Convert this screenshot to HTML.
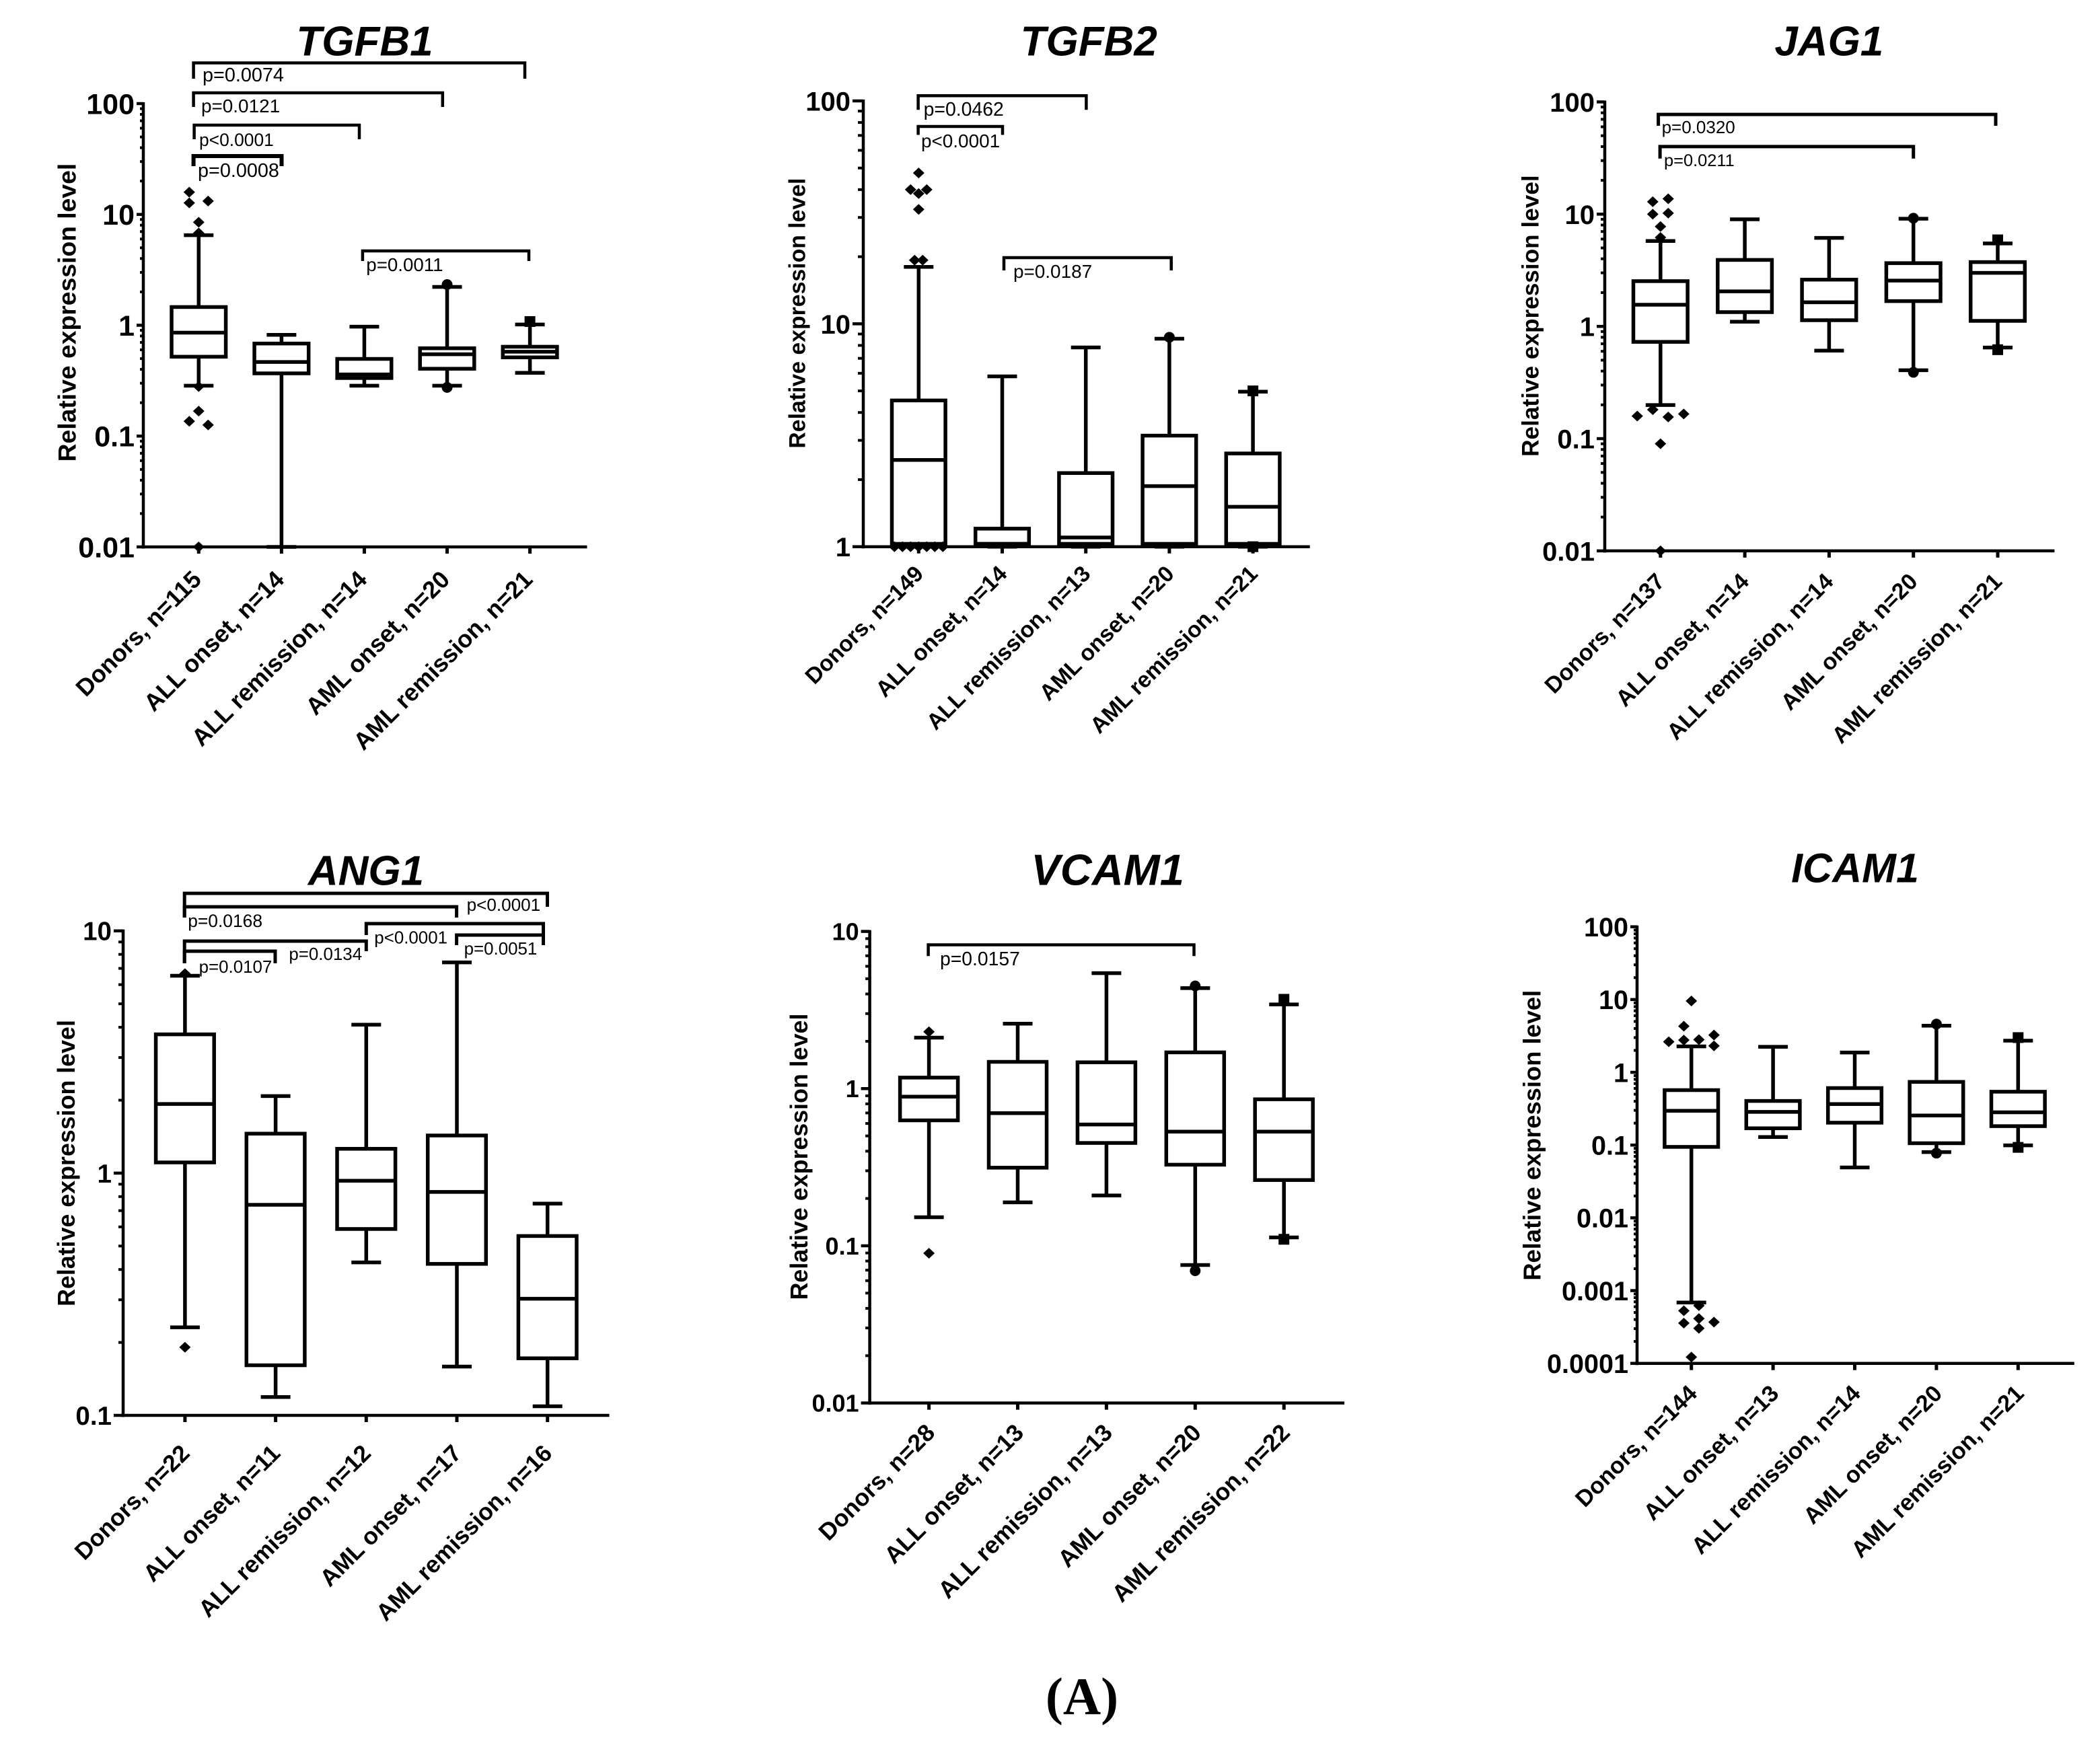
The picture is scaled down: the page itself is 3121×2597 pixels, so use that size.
<!DOCTYPE html>
<html lang="en">
<head>
<meta charset="utf-8">
<title>Relative expression level box plots</title>
<style>
html,body{margin:0;padding:0;background:#fff;}
svg{display:block;}
text{fill:#000;font-family:"Liberation Sans",sans-serif;}
</style>
</head>
<body>
<svg id="figure" xmlns="http://www.w3.org/2000/svg" width="3121" height="2597" viewBox="0 0 3121 2597">
<rect width="3121" height="2597" fill="#fff"/>
<text x="1608" y="2548" text-anchor="middle" style="font-family:'Liberation Serif',serif;font-weight:bold;font-size:78px;">(A)</text>
</svg>
<script>
// ---------- chart data ----------
const markerShapes = ['diamond', 'diamond', 'diamond', 'circle', 'square'];

const categoriesTGFB1 = ['Donors, n=115', 'ALL onset, n=14', 'ALL remission, n=14', 'AML onset, n=20', 'AML remission, n=21'];
const yTickLabelsTGFB1 = ['100', '10', '1', '0.1', '0.01'];
const whiskerHighTGFB1 = [6.5, 0.82, 0.97, 2.22, 1.016];
const q3TGFB1 = [1.46, 0.684, 0.497, 0.62, 0.64];
const medianTGFB1 = [0.857, 0.466, 0.36, 0.547, 0.577];
const q1TGFB1 = [0.52, 0.368, 0.334, 0.405, 0.513];
const whiskerLowTGFB1 = [0.285, 0.01, 0.285, 0.285, 0.372];
const outlierValuesTGFB1 = [[15.9, 12.7, 13.2, 8.5, 6.8, 0.28, 0.168, 0.136, 0.126, 0.01], [], [], [2.33, 0.275], [1.08]];
const outlierLanesTGFB1 = [[-1, -1, 1, 0, 0, 0, 0, -1, 1, 0], [], [], [0, 0], [0]];

const categoriesTGFB2 = ['Donors, n=149', 'ALL onset, n=14', 'ALL remission, n=13', 'AML onset, n=20', 'AML remission, n=21'];
const yTickLabelsTGFB2 = ['100', '10', '1'];
const whiskerHighTGFB2 = [18.0, 5.81, 7.83, 8.57, 4.96];
const q3TGFB2 = [4.53, 1.205, 2.14, 3.15, 2.62];
const medianTGFB2 = [2.45, 1.03, 1.10, 1.87, 1.51];
const q1TGFB2 = [1.03, 1.03, 1.03, 1.03, 1.03];
const whiskerLowTGFB2 = [1, 1, 1, 1, 1];
const outlierValuesTGFB2 = [[47.5, 40, 40, 38.4, 32.6, 19.3, 19.3, 1, 1, 1, 1, 1, 1, 1], [], [], [8.7], [5.0, 1]];
const outlierLanesTGFB2 = [[0, -1, 1, 0, 0, -0.5, 0.5, -3, -2, -1, 0, 1, 2, 3], [], [], [0], [0, 0]];

const categoriesJAG1 = ['Donors, n=137', 'ALL onset, n=14', 'ALL remission, n=14', 'AML onset, n=20', 'AML remission, n=21'];
const yTickLabelsJAG1 = ['100', '10', '1', '0.1', '0.01'];
const whiskerHighJAG1 = [5.77, 9.0, 6.15, 9.1, 5.48];
const q3JAG1 = [2.53, 3.91, 2.61, 3.66, 3.74];
const medianJAG1 = [1.56, 2.05, 1.64, 2.56, 3.0];
const q1JAG1 = [0.728, 1.34, 1.135, 1.68, 1.12];
const whiskerLowJAG1 = [0.199, 1.10, 0.608, 0.407, 0.648];
const outlierValuesJAG1 = [[13.7, 12.9, 10.0, 10.2, 7.76, 6.2, 0.181, 0.159, 0.156, 0.166, 0.09, 0.01], [], [], [9.2, 0.39], [5.9, 0.62]];
const outlierLanesJAG1 = [[1, -1, -1, 1, 0, 0, -1, -3, 1, 3, 0, 0], [], [], [0, 0], [0, 0]];

const categoriesANG1 = ['Donors, n=22', 'ALL onset, n=11', 'ALL remission, n=12', 'AML onset, n=17', 'AML remission, n=16'];
const yTickLabelsANG1 = ['10', '1', '0.1'];
const whiskerHighANG1 = [6.53, 2.08, 4.1, 7.41, 0.748];
const q3ANG1 = [3.74, 1.455, 1.26, 1.43, 0.55];
const medianANG1 = [1.93, 0.74, 0.93, 0.836, 0.303];
const q1ANG1 = [1.107, 0.161, 0.588, 0.422, 0.172];
const whiskerLowANG1 = [0.231, 0.119, 0.428, 0.159, 0.109];
const outlierValuesANG1 = [[6.66, 0.191], [], [], [], []];
const outlierLanesANG1 = [[0, 0], [], [], [], []];

const categoriesVCAM1 = ['Donors, n=28', 'ALL onset, n=13', 'ALL remission, n=13', 'AML onset, n=20', 'AML remission, n=22'];
const yTickLabelsVCAM1 = ['10', '1', '0.1', '0.01'];
const whiskerHighVCAM1 = [2.11, 2.59, 5.43, 4.36, 3.43];
const q3VCAM1 = [1.175, 1.48, 1.47, 1.70, 0.855];
const medianVCAM1 = [0.889, 0.698, 0.591, 0.532, 0.532];
const q1VCAM1 = [0.628, 0.314, 0.451, 0.328, 0.262];
const whiskerLowVCAM1 = [0.152, 0.189, 0.209, 0.0755, 0.113];
const outlierValuesVCAM1 = [[2.3, 0.0897], [], [], [4.5, 0.0694], [3.7, 0.11]];
const outlierLanesVCAM1 = [[0, 0], [], [], [0, 0], [0, 0]];

const categoriesICAM1 = ['Donors, n=144', 'ALL onset, n=13', 'ALL remission, n=14', 'AML onset, n=20', 'AML remission, n=21'];
const yTickLabelsICAM1 = ['100', '10', '1', '0.1', '0.01', '0.001', '0.0001'];
const whiskerHighICAM1 = [2.27, 2.24, 1.87, 4.37, 2.72];
const q3ICAM1 = [0.569, 0.404, 0.607, 0.738, 0.541];
const medianICAM1 = [0.296, 0.286, 0.366, 0.255, 0.282];
const q1ICAM1 = [0.0944, 0.17, 0.203, 0.106, 0.182];
const whiskerLowICAM1 = [0.000685, 0.129, 0.0492, 0.0802, 0.099];
const outlierValuesICAM1 = [[9.55, 4.3, 2.63, 2.77, 2.81, 3.25, 2.31, 0.000622, 0.000529, 0.000413, 0.000357, 0.000369, 0.000303, 0.000122], [], [], [4.6, 0.0775], [3.0, 0.093]];
const outlierLanesICAM1 = [[0, -1, -3, -1, 1, 3, 3, 1, -1, 1, -1, 3, 1, 0], [], [], [0, 0], [0, 0]];

// ---------- drawing helpers ----------
const NS = 'http://www.w3.org/2000/svg';
const root = document.getElementById('figure');

function svgEl(parent, tag, attrs, name) {
  const el = document.createElementNS(NS, tag);
  for (const k in attrs) el.setAttribute(k, attrs[k]);
  
  
  parent.appendChild(el);
  return el;
}

function line(parent, x1, y1, x2, y2, sw, name) {
  return svgEl(parent, 'line', {x1: x1, y1: y1, x2: x2, y2: y2, stroke: '#000', 'stroke-width': sw}, name);
}

function label(parent, x, y, str, size, weight, anchor, name, extra) {
  const attrs = {x: x, y: y, 'text-anchor': anchor, 'font-size': size, 'font-weight': weight};
  for (const k in (extra || {})) attrs[k] = extra[k];
  const t = svgEl(parent, 'text', attrs, name);
  t.textContent = str;
  return t;
}

function marker(parent, shape, cx, cy, name) {
  if (shape === 'circle') {
    return svgEl(parent, 'circle', {cx: cx, cy: cy, r: 8, fill: '#000'}, name);
  }
  if (shape === 'square') {
    return svgEl(parent, 'rect', {x: cx - 8, y: cy - 8, width: 16, height: 16, fill: '#000'}, name);
  }
  const pts = [[cx, cy - 8], [cx + 8.5, cy], [cx, cy + 8], [cx - 8.5, cy]].map(p => p.join(',')).join(' ');
  return svgEl(parent, 'polygon', {points: pts}, name);
}

function bracket(parent, x1, x2, y, leftEnd, rightEnd, sw, text, tx, ty, size) {
  const group = svgEl(parent, 'g', {}, 'significance-bracket');
  svgEl(group, 'path', {
    d: 'M' + x1 + ' ' + leftEnd + 'V' + y + 'H' + x2 + 'V' + rightEnd,
    fill: 'none', stroke: '#000', 'stroke-width': sw
  }, 'bracket-line');
  label(group, tx, ty, text, size, 'normal', 'start', 'p-value-label');
}

function drawPanel(p) {
  const g = svgEl(root, 'g', {}, p.slug + '-panel');
  const decades = p.yTickLabels.length - 1;
  const topLog = Math.log10(parseFloat(p.yTickLabels[0]));
  const yScale = v => p.yTop + (topLog - Math.log10(v)) * (p.yBottom - p.yTop) / decades;
  const xScale = i => p.x0 + i * p.dx;

  label(g, p.titleX, p.titleY, p.title, p.titleSize, 'bold', 'middle', p.slug + '-title', {'font-style': 'italic'});

  const tx = p.yTitleX, ty = p.yTitleY;
  label(g, tx, ty, 'Relative expression level', p.yTitleSize, 'bold', 'middle', 'y-axis-title', {transform: 'rotate(-90 ' + tx + ' ' + ty + ')'});

  // axes
  line(g, p.axisX, p.yTop - 2, p.axisX, p.yBottom + 2.5, 4.5, 'y-axis');
  line(g, p.axisX - 2.5, p.yBottom, p.xEnd, p.yBottom, 4.5, 'x-axis');

  // y ticks
  p.yTickLabels.forEach((lab, k) => {
    const value = parseFloat(lab);
    const y = yScale(value);
    line(g, p.axisX - p.majorTick, y, p.axisX, y, 4.5, 'y-major-tick');
    label(g, p.axisX - p.majorTick - 3, y + p.tickSize * 0.36, lab, p.tickSize, 'bold', 'end', 'y-tick-label');
    if (k < decades) {
      for (let m = 2; m <= 9; m++) {
        const my = yScale(value / 10 * m);
        line(g, p.axisX - p.majorTick / 2, my, p.axisX, my, 4, 'y-minor-tick');
      }
    }
  });

  // categories
  p.categories.forEach((cat, i) => {
    const x = xScale(i);
    line(g, x, p.yBottom, x, p.yBottom + 10, 5, 'x-tick');
    const lx = x + p.labelDx, ly = p.yBottom + p.labelDy;
    label(g, lx, ly, cat, p.labelSize, 'bold', 'end', 'x-tick-label', {transform: 'rotate(-45 ' + lx + ' ' + ly + ')'});

    const box = svgEl(g, 'g', {}, 'box-plot');
    const hi = yScale(p.whiskerHigh[i]);
    const q3 = yScale(p.q3[i]);
    const med = yScale(p.median[i]);
    const q1 = yScale(p.q1[i]);
    const lo = yScale(p.whiskerLow[i]);
    line(box, x, hi, x, q3, p.stroke, 'upper-whisker');
    line(box, x, q1, x, lo, p.stroke, 'lower-whisker');
    line(box, x - 22, hi, x + 22, hi, p.stroke, 'upper-whisker-cap');
    line(box, x - 22, lo, x + 22, lo, p.stroke, 'lower-whisker-cap');
    svgEl(box, 'rect', {
      x: x - p.boxWidth / 2, y: q3, width: p.boxWidth, height: q1 - q3,
      fill: '#fff', stroke: '#000', 'stroke-width': p.stroke
    }, 'interquartile-box');
    line(box, x - p.boxWidth / 2, med, x + p.boxWidth / 2, med, p.stroke, 'median-line');
    p.outlierValues[i].forEach((v, j) => {
      marker(box, markerShapes[i], x + p.outlierLanes[i][j] * p.laneWidth, yScale(v), 'outlier-point');
    });
  });
  return g;
}

// ---------- panels ----------
const panelTGFB1 = drawPanel({
  slug: 'tgfb1', title: 'TGFB1', titleX: 542, titleY: 82.6, titleSize: 62,
  yTitleX: 112.4, yTitleY: 464.6, yTitleSize: 37.3,
  axisX: 213, yTop: 154, yBottom: 813, xEnd: 872.5, majorTick: 10, tickSize: 43,
  x0: 295.3, dx: 123.07, boxWidth: 80.6, stroke: 5.5, laneWidth: 14,
  labelDx: 6, labelDy: 50.6, labelSize: 35.8,
  categories: categoriesTGFB1, yTickLabels: yTickLabelsTGFB1,
  whiskerHigh: whiskerHighTGFB1, q3: q3TGFB1, median: medianTGFB1, q1: q1TGFB1, whiskerLow: whiskerLowTGFB1,
  outlierValues: outlierValuesTGFB1, outlierLanes: outlierLanesTGFB1
});
bracket(panelTGFB1, 287.6, 780, 93.5, 117, 117, 4.5, 'p=0.0074', 301, 121, 28.8);
bracket(panelTGFB1, 287.6, 657.8, 138, 159, 159, 4.5, 'p=0.0121', 299, 167, 27.9);
bracket(panelTGFB1, 288.6, 534, 186, 207, 207, 4.5, 'p<0.0001', 296, 217, 26.4);
bracket(panelTGFB1, 287.6, 418.5, 232, 247, 247, 6, 'p=0.0008', 294, 263, 28.8);
bracket(panelTGFB1, 538.9, 786, 373, 388, 388, 4.5, 'p=0.0011', 544.3, 403, 27.7);

const panelTGFB2 = drawPanel({
  slug: 'tgfb2', title: 'TGFB2', titleX: 1618.3, titleY: 82.6, titleSize: 62,
  yTitleX: 1196.5, yTitleY: 465.6, yTitleSize: 33.8,
  axisX: 1283, yTop: 150, yBottom: 812.7, xEnd: 1946.7, majorTick: 16, tickSize: 40,
  x0: 1365.3, dx: 124.2, boxWidth: 79.6, stroke: 5.5, laneWidth: 12,
  labelDx: 9, labelDy: 42.3, labelSize: 33.5,
  categories: categoriesTGFB2, yTickLabels: yTickLabelsTGFB2,
  whiskerHigh: whiskerHighTGFB2, q3: q3TGFB2, median: medianTGFB2, q1: q1TGFB2, whiskerLow: whiskerLowTGFB2,
  outlierValues: outlierValuesTGFB2, outlierLanes: outlierLanesTGFB2
});
bracket(panelTGFB2, 1364.6, 1614.4, 142.3, 163.2, 163.2, 4.5, 'p=0.0462', 1372.6, 172, 28.4);
bracket(panelTGFB2, 1364.6, 1490, 188, 200.5, 200.5, 4.5, 'p<0.0001', 1369, 218.9, 27.9);
bracket(panelTGFB2, 1492, 1740.7, 383, 402, 402, 4.5, 'p=0.0187', 1506, 412.9, 27.9);

const panelJAG1 = drawPanel({
  slug: 'jag1', title: 'JAG1', titleX: 2718.3, titleY: 82.6, titleSize: 62,
  yTitleX: 2286.6, yTitleY: 469.6, yTitleSize: 35.2,
  axisX: 2385, yTop: 151.5, yBottom: 818.9, xEnd: 3053.4, majorTick: 12, tickSize: 40,
  x0: 2467.8, dx: 125.3, boxWidth: 80.6, stroke: 5.5, laneWidth: 11.5,
  labelDx: 8.2, labelDy: 47.6, labelSize: 34,
  categories: categoriesJAG1, yTickLabels: yTickLabelsJAG1,
  whiskerHigh: whiskerHighJAG1, q3: q3JAG1, median: medianJAG1, q1: q1JAG1, whiskerLow: whiskerLowJAG1,
  outlierValues: outlierValuesJAG1, outlierLanes: outlierLanesJAG1
});
bracket(panelJAG1, 2464.6, 2966, 170.1, 187, 187, 5, 'p=0.0320', 2469.6, 198, 26);
bracket(panelJAG1, 2467.1, 2843.7, 217.9, 235.8, 235.8, 5, 'p=0.0211', 2473, 247.2, 25.4);

const panelANG1 = drawPanel({
  slug: 'ang1', title: 'ANG1', titleX: 544, titleY: 1315.6, titleSize: 62,
  yTitleX: 111, yTitleY: 1729, yTitleSize: 35.8,
  axisX: 183, yTop: 1383.8, yBottom: 2104, xEnd: 905.6, majorTick: 14, tickSize: 38.6,
  x0: 274.9, dx: 134.7, boxWidth: 86.6, stroke: 5.5, laneWidth: 12,
  labelDx: 8.9, labelDy: 58.5, labelSize: 35.2,
  categories: categoriesANG1, yTickLabels: yTickLabelsANG1,
  whiskerHigh: whiskerHighANG1, q3: q3ANG1, median: medianANG1, q1: q1ANG1, whiskerLow: whiskerLowANG1,
  outlierValues: outlierValuesANG1, outlierLanes: outlierLanesANG1
});
bracket(panelANG1, 274.2, 813.5, 1328, 1364, 1348, 5, 'p<0.0001', 693.6, 1354, 26.1);
bracket(panelANG1, 274.2, 678.6, 1348, 1364, 1364, 5, 'p=0.0168', 279.2, 1378, 26.4);
bracket(panelANG1, 544.3, 807.5, 1373, 1390, 1405, 5, 'p<0.0001', 556.3, 1402.5, 25.9);
bracket(panelANG1, 678.6, 807.5, 1390, 1405, 1405, 5, 'p=0.0051', 689.6, 1419, 25.9);
bracket(panelANG1, 274.2, 544.3, 1399, 1432, 1414, 5, 'p=0.0134', 429.4, 1427, 25.9);
bracket(panelANG1, 274.2, 409, 1414, 1432, 1432, 5, 'p=0.0107', 295.6, 1446, 25.9);

const panelVCAM1 = drawPanel({
  slug: 'vcam1', title: 'VCAM1', titleX: 1646.2, titleY: 1315.6, titleSize: 65,
  yTitleX: 1200, yTitleY: 1719.5, yTitleSize: 35.8,
  axisX: 1292.6, yTop: 1384.6, yBottom: 2085.6, xEnd: 1998, majorTick: 13, tickSize: 36,
  x0: 1380.6, dx: 131.9, boxWidth: 86, stroke: 5.5, laneWidth: 12,
  labelDx: 10.9, labelDy: 46.3, labelSize: 35.6,
  categories: categoriesVCAM1, yTickLabels: yTickLabelsVCAM1,
  whiskerHigh: whiskerHighVCAM1, q3: q3VCAM1, median: medianVCAM1, q1: q1VCAM1, whiskerLow: whiskerLowVCAM1,
  outlierValues: outlierValuesVCAM1, outlierLanes: outlierLanesVCAM1
});
bracket(panelVCAM1, 1379.6, 1774.5, 1404.5, 1421.3, 1421.3, 4.5, 'p=0.0157', 1397, 1435, 28.3);

const panelICAM1 = drawPanel({
  slug: 'icam1', title: 'ICAM1', titleX: 2757, titleY: 1311.6, titleSize: 61,
  yTitleX: 2289.5, yTitleY: 1687.7, yTitleSize: 36.3,
  axisX: 2433, yTop: 1377.7, yBottom: 2026.7, xEnd: 3082.8, majorTick: 10, tickSize: 39.6,
  x0: 2513.7, dx: 121.4, boxWidth: 79.6, stroke: 5.5, laneWidth: 11.2,
  labelDx: 10.5, labelDy: 46.8, labelSize: 34.5,
  categories: categoriesICAM1, yTickLabels: yTickLabelsICAM1,
  whiskerHigh: whiskerHighICAM1, q3: q3ICAM1, median: medianICAM1, q1: q1ICAM1, whiskerLow: whiskerLowICAM1,
  outlierValues: outlierValuesICAM1, outlierLanes: outlierLanesICAM1
});
</script>
</body>
</html>
